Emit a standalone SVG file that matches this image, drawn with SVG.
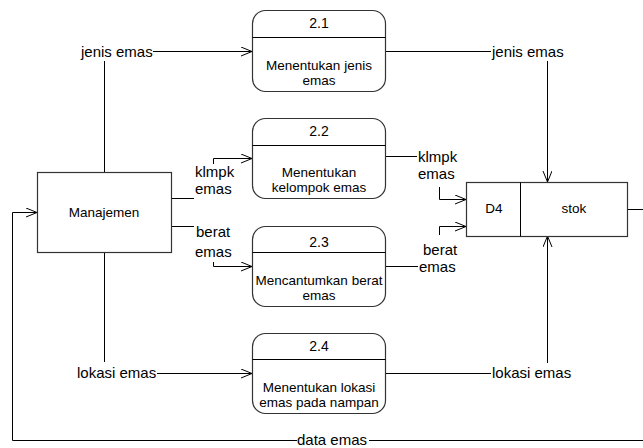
<svg xmlns="http://www.w3.org/2000/svg" width="643" height="448" viewBox="0 0 643 448">
<style>
.ln{fill:none;stroke:#000;stroke-width:1}
.box{fill:#fff;stroke:#333;stroke-width:1.2}
.lbl{font-family:"Liberation Sans",Arial,sans-serif;font-size:15px;fill:#000}
.ptx{font-family:"Liberation Sans",Arial,sans-serif;font-size:13.5px;fill:#000;text-anchor:middle}
.num{font-family:"Liberation Sans",Arial,sans-serif;font-size:14px;fill:#000;text-anchor:middle}
.arr{marker-end:url(#ah)}
</style>
<defs>
<marker id="ah" markerUnits="userSpaceOnUse" markerWidth="12" markerHeight="10" refX="11" refY="4.5" orient="auto">
<path d="M0,0 L11,4.5 L0,9" fill="none" stroke="#000" stroke-width="1"/>
</marker>
</defs>
<rect width="643" height="448" fill="#fff"/>
<g id="connectors">
<path class="ln" d="M104.5,172 V61"/>
<path class="ln arr" d="M153,51.5 H252"/>
<path class="ln" d="M386,51.5 H491"/>
<path class="ln arr" d="M547.5,61 V182"/>
<path class="ln" d="M172,198.5 H194"/>
<path class="ln arr" d="M213.5,164 V158.5 H252"/>
<path class="ln" d="M172,226.5 H194"/>
<path class="ln arr" d="M213.5,262 V266.5 H252"/>
<path class="ln" d="M386,156.5 H417"/>
<path class="ln arr" d="M439.5,187 V199.5 H466"/>
<path class="ln" d="M386,266.5 H418"/>
<path class="ln arr" d="M439.5,235 V226.5 H466"/>
<path class="ln" d="M104.5,252 V362"/>
<path class="ln arr" d="M157,373.5 H252"/>
<path class="ln" d="M386,373.5 H491"/>
<path class="ln arr" d="M547.5,363 V236"/>
<path class="ln" d="M628,209.5 H643"/>
<path class="ln" d="M643,440.5 H369"/>
<path class="ln arr" d="M297,440.5 H12.5 V212.5 H37"/>
<text class="lbl" x="81" y="57">jenis emas</text>
<text class="lbl" x="492" y="57">jenis emas</text>
<text class="lbl" x="195" y="177">klmpk</text>
<text class="lbl" x="195" y="194">emas</text>
<text class="lbl" x="196" y="237">berat</text>
<text class="lbl" x="195" y="257">emas</text>
<text class="lbl" x="418" y="162">klmpk</text>
<text class="lbl" x="418" y="179">emas</text>
<text class="lbl" x="423" y="255">berat</text>
<text class="lbl" x="419" y="272">emas</text>
<text class="lbl" x="77" y="378">lokasi emas</text>
<text class="lbl" x="492" y="378">lokasi emas</text>
<text class="lbl" x="297" y="445">data emas</text>
</g>
<g id="manajemen">
<rect class="box" x="37.5" y="172.5" width="134" height="80"/>
<text class="ptx" x="104" y="217">Manajemen</text>
</g>
<g id="p2_1">
<rect class="box" x="252.5" y="10.5" width="133" height="81" rx="13"/>
<path class="ln" d="M252.5,37.5 H385.5"/>
<text class="num" x="319" y="28">2.1</text>
<text class="ptx" x="319" y="70">Menentukan jenis</text>
<text class="ptx" x="319" y="85">emas</text>
</g>
<g id="p2_2">
<rect class="box" x="252.5" y="118.5" width="133" height="80" rx="13"/>
<path class="ln" d="M252.5,145.5 H385.5"/>
<text class="num" x="319" y="136">2.2</text>
<text class="ptx" x="319" y="177">Menentukan</text>
<text class="ptx" x="319" y="192">kelompok emas</text>
</g>
<g id="p2_3">
<rect class="box" x="252.5" y="226.5" width="133" height="80" rx="13"/>
<path class="ln" d="M252.5,252.5 H385.5"/>
<text class="num" x="319" y="247">2.3</text>
<text class="ptx" x="319" y="285">Mencantumkan berat</text>
<text class="ptx" x="319" y="300">emas</text>
</g>
<g id="p2_4">
<rect class="box" x="252.5" y="333.5" width="133" height="80" rx="13"/>
<path class="ln" d="M252.5,359.5 H385.5"/>
<text class="num" x="319" y="351">2.4</text>
<text class="ptx" x="319" y="392">Menentukan lokasi</text>
<text class="ptx" x="319" y="407">emas pada nampan</text>
</g>
<g id="d4_stok">
<rect class="box" x="466.5" y="182.5" width="161" height="54"/>
<path class="ln" d="M520.5,182.5 V236.5"/>
<text class="ptx" x="494" y="213">D4</text>
<text class="ptx" x="574" y="213">stok</text>
</g>
</svg>
